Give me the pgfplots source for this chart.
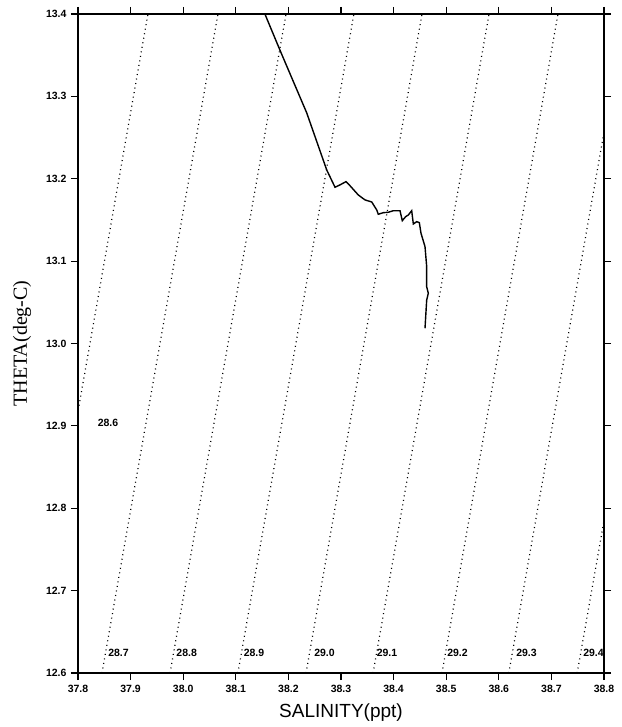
\documentclass[border=0pt]{standalone}
\usepackage{fontspec}
\setmainfont{Liberation Serif}
\setsansfont{Liberation Sans}
\usepackage{pgfplots}
\pgfplotsset{compat=1.18}
\begin{document}
\begin{tikzpicture}[x=1pt,y=1pt]
\begin{axis}[
  at={(0,0)}, anchor=south west,
  width=526pt, height=659pt, scale only axis,
  xmin=37.8, xmax=38.8, ymin=12.6, ymax=13.4,
  xtick={37.8,37.9,38.0,38.1,38.2,38.3,38.4,38.5,38.6,38.7,38.8},
  ytick={12.6,12.7,12.8,12.9,13.0,13.1,13.2,13.3,13.4},
  tick align=outside, major tick length=7pt,
  axis line style={line width=1.6pt},
  every tick/.style={black, line width=1.2pt},
  /pgf/number format/assume math mode=true,
  /pgf/number format/.cd, fixed, precision=1, fixed zerofill, /pgfplots/.cd,
  tick label style={font=\sffamily\bfseries\fontsize{10.5}{12}\selectfont},
  xticklabel style={yshift=-2pt},
  yticklabel style={xshift=-1pt},
  xlabel={SALINITY(ppt)},
  ylabel={THETA(deg-C)},
  xlabel style={font=\sffamily\fontsize{19}{22}\selectfont, at={(axis description cs:0.5,-0.0607)}, anchor=center},
  ylabel style={font=\rmfamily\fontsize{20}{24}\selectfont, at={(axis description cs:-0.1065,0.5)}, anchor=center, rotate=0},
  clip mode=individual,
]
% isopycnals
\pgfplotsset{iso/.style={black, line width=1.2pt, dash pattern=on 1pt off 3.6pt}}
\addplot[iso] coordinates {(37.7125,12.6) (37.933,13.4)};
\addplot[iso] coordinates {(37.8456,12.6) (38.0661,13.4)};
\addplot[iso] coordinates {(37.975,12.6) (38.1955,13.4)};
\addplot[iso] coordinates {(38.104,12.6) (38.3245,13.4)};
\addplot[iso] coordinates {(38.2335,12.6) (38.454,13.4)};
\addplot[iso] coordinates {(38.361,12.6) (38.5815,13.4)};
\addplot[iso] coordinates {(38.492,12.6) (38.7125,13.4)};
\addplot[iso] coordinates {(38.619,12.6) (38.8395,13.4)};
\addplot[iso] coordinates {(38.749,12.6) (38.9695,13.4)};
% profile
\addplot[black, line width=1.4pt] coordinates {
(38.156,13.399) (38.1587,13.3948) (38.184,13.356) (38.2348,13.280)
(38.2728,13.2107) (38.2886,13.1897) (38.298,13.1925) (38.3095,13.1965)
(38.317,13.1916) (38.3329,13.1803) (38.3456,13.1743) (38.3584,13.1718)
(38.3679,13.1621) (38.3709,13.1569) (38.3804,13.1588) (38.3899,13.1593)
(38.3994,13.1612) (38.4122,13.1612) (38.4165,13.1491) (38.423,13.154)
(38.428,13.156) (38.4344,13.1612) (38.4375,13.1451) (38.4439,13.1479)
(38.4489,13.1467) (38.4521,13.1338) (38.4597,13.1176) (38.4629,13.0933)
(38.4629,13.0690) (38.466,13.061) (38.4629,13.0528) (38.461,13.0325)
(38.4597,13.0185)
};
% isopycnal labels
\tikzset{sig/.style={font=\sffamily\bfseries\fontsize{10.5}{12}\selectfont, inner sep=0pt}}
\node[sig] at (axis cs:37.857,12.904) {28.6};
\node[sig] at (axis cs:37.877,12.625) {28.7};
\node[sig] at (axis cs:38.0066,12.625) {28.8};
\node[sig] at (axis cs:38.1346,12.625) {28.9};
\node[sig] at (axis cs:38.2686,12.625) {29.0};
\node[sig] at (axis cs:38.3875,12.625) {29.1};
\node[sig] at (axis cs:38.5215,12.625) {29.2};
\node[sig] at (axis cs:38.6527,12.625) {29.3};
\node[sig] at (axis cs:38.780,12.625) {29.4};
\end{axis}
\pgfresetboundingbox
\useasboundingbox (-78,-54) rectangle (543,673);
\end{tikzpicture}
\end{document}
